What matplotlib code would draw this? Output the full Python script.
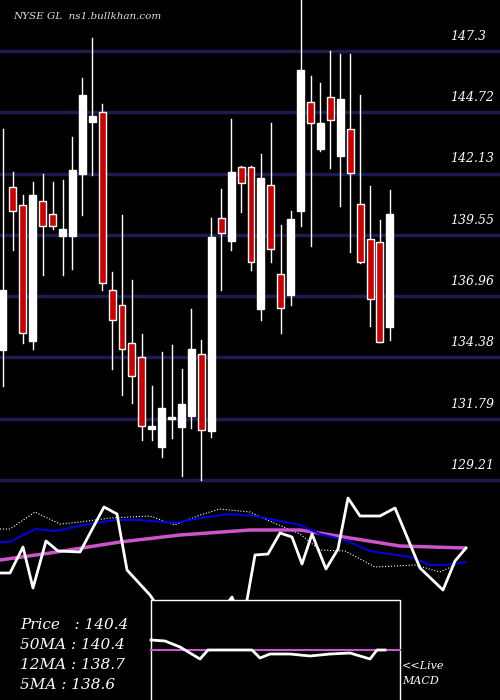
import matplotlib
matplotlib.use("Agg")
import matplotlib.pyplot as plt
from matplotlib.patches import Rectangle

opens = [134.69,141.57,140.81,135.07,140.98,140.43,139.50,139.50,142.11,144.31,144.73,137.22,136.59,134.99,134.40,131.36,130.60,131.77,131.45,131.91,134.53,131.28,140.26,139.29,142.41,142.41,136.42,141.65,137.90,137.01,140.55,145.15,143.17,145.36,142.87,144.01,140.85,139.37,139.25,135.66]
closes = [137.22,140.55,135.41,141.23,139.92,139.92,139.80,142.28,145.44,144.56,137.52,135.96,134.74,133.60,131.49,131.49,132.25,131.79,132.42,134.74,131.32,139.46,139.63,142.20,141.73,138.40,141.95,138.95,136.46,140.22,146.50,144.26,144.26,144.39,145.28,142.16,138.40,136.84,135.03,140.43]
highs = [144.01,142.20,141.23,141.78,142.11,141.78,141.86,143.67,146.16,147.85,145.07,137.98,140.39,137.65,135.37,133.18,134.61,134.90,133.89,136.42,135.12,140.26,141.48,144.43,142.45,142.45,142.96,144.26,139.96,140.55,149.45,146.25,145.95,147.30,147.17,147.17,145.44,141.61,140.18,141.44]
lows = [133.18,138.91,134.99,134.74,137.86,139.80,137.86,138.11,140.39,142.07,137.22,133.89,132.80,132.46,130.90,130.90,130.18,130.98,129.38,131.41,129.21,131.03,137.22,138.91,140.51,138.07,135.96,138.40,135.41,136.59,139.92,139.08,143.08,142.37,140.77,138.83,138.36,135.71,135.03,135.12]
levels = [147.3,144.72,142.13,139.55,136.96,134.38,131.79,129.21]
level_labels = ["147.3","144.72","142.13","139.55","136.96","134.38","131.79","129.21"]

# lower panel (indicator units)
osc_x = [0,10,23,33,46,58,80,104,117,127,150,160,200,232,238,247,255,268,280,292,302,312,326,338,348,360,380,395,420,443,455,466]
osc_y = [573,573,547,588,541,551,552,507,514,570,595,610,640,597,612,600,555,554,533,537,564,534,569,549,498,516,516,508,568,590,561,548]
blue_x = [0,10,35,55,90,115,140,175,200,230,255,280,300,320,345,370,390,410,430,445,465]
blue_y = [542,542,529,531,524,520,520,523,518,514,516,521,525,534,540,551,554,557,565,565,562]
mag_x = [0,50,120,180,250,300,350,400,465]
mag_y = [560,553,542,535,530,530,538,546,548]
dot_x = [0,10,35,60,80,110,150,175,200,220,250,265,300,320,345,375,415,440,455]
dot_y = [529,529,512,524,522,518,516,525,515,509,512,519,534,550,551,567,565,572,565]
macd_x = [151,165,180,200,208,252,260,270,290,310,330,350,370,377,385]
macd_y = [640,641,647,659,650,650,658,654,654,656,654,653,659,650,650]
info = ["Price   : 140.4", "50MA : 140.4", "12MA : 138.7", "5MA : 138.6"]

fig = plt.figure(figsize=(5, 7), dpi=100, facecolor="black")
ax = fig.add_axes([0, 210/700, 1, 490/700])
ax.set_facecolor("black")
ax.set_xlim(-0.3, 50.1)
ax.set_ylim(128.79, 149.45)
ax.axis("off")
for lv, lb in zip(levels, level_labels):
    ax.axhline(lv, color="#1c1c50", lw=2.5, zorder=1)
    ax.text(45.1, lv + 0.35, lb, color="white", fontsize=9, style="italic", family="DejaVu Serif", va="bottom", ha="left")
for i, (o, c, h, l) in enumerate(zip(opens, closes, highs, lows)):
    ax.plot([i, i], [l, h], color="white", lw=1, zorder=2)
    red = c < o
    b = min(o, c); t = max(o, c)
    if t - b < 0.1:
        t = b + 0.1
    ax.add_patch(Rectangle((i - 0.35, b), 0.7, t - b, facecolor="#cc0000" if red else "white",
                           edgecolor="white", lw=1, zorder=3))
ax.text(1.0, 149.45 - 0.5, "NYSE GL  ns1.bullkhan.com", color="#dddddd", fontsize=7.5,
        style="italic", family="DejaVu Serif", va="top")

ax2 = fig.add_axes([0, 0, 1, 210/700])
ax2.set_facecolor("black")
ax2.set_xlim(0, 500)
ax2.set_ylim(700, 490)
ax2.axis("off")
ax2.plot(dot_x, dot_y, color="white", lw=0.8, ls=":", zorder=2)
ax2.plot(mag_x, mag_y, color="#cc55cc", lw=2.5, zorder=2)
ax2.plot(blue_x, blue_y, color="#0000dd", lw=1.5, zorder=3)
ax2.plot(osc_x, osc_y, color="white", lw=2, zorder=4)
ax2.add_patch(Rectangle((151, 600), 249, 105, facecolor="black", edgecolor="white", lw=1, zorder=5))
ax2.plot([151, 400], [650, 650], color="#cc55cc", lw=1.5, zorder=6)
ax2.plot(macd_x, macd_y, color="white", lw=2, zorder=7)
for k, t in enumerate(info):
    ax2.text(20, 625 + 20 * k, t, color="white", fontsize=11, style="italic", family="DejaVu Serif", va="center", zorder=8)
ax2.text(402, 666, "<<Live", color="white", fontsize=8, style="italic", family="DejaVu Serif", va="center")
ax2.text(402, 681, "MACD", color="white", fontsize=8, style="italic", family="DejaVu Serif", va="center")
fig.savefig("out.png", dpi=100, facecolor="black")
